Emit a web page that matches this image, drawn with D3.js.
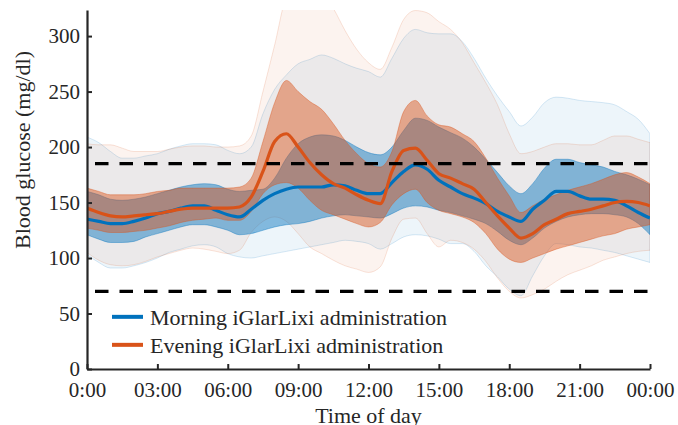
<!DOCTYPE html>
<html>
<head>
<meta charset="utf-8">
<script src="https://cdn.jsdelivr.net/npm/d3@7"></script>
<style>
  body { margin: 0; background: #fff; }
  text { font-family: "Liberation Serif", "Times New Roman", serif; fill: #262626; }
</style>
</head>
<body>
<div class="chart"></div>
<script>
// time of day in hours (half-hour steps)
var hours = [0,0.5,1,1.5,2,2.5,3,3.5,4,4.5,5,5.5,6,6.5,7,7.5,8,8.5,9,9.5,10,10.5,11,11.5,12,
  12.5,13,13.5,14,14.5,15,15.5,16,16.5,17,17.5,18,18.5,19,19.5,20,20.5,21,21.5,22,22.5,23,23.5,24];

// Morning administration
var blueMean = [135,133,131,131,133,136,140,142,145,147,147,143,139,137,144,152,158,162,164,164,164,166,165,161,158,
  158,168,178,184,180,170,164,158,154,149,142,137,133,144,152,160,160,156,153,153,152,147,141,136];
var blueInnerHi = [160,157,153,152,153,155,158,161,164,166,167,166,162,160,161,162,172,190,203,209,211,210,206,200,195,
  193,200,215,226,224,218,213,208,200,189,177,165,158,167,181,189,189,186,184,182,178,175,171,166];
var blueInnerLo = [121,117,114,114,115,119,122,125,128,130,130,128,125,121,122,125,128,130,131,133,136,138,139,138,137,
  136,140,145,147,146,143,141,138,135,131,124,116,112,118,127,133,137,139,140,140,139,137,131,121];
var blueOuterHi = [209,204,196,190,190,192,194,198,201,203,203,202,197,194,200,230,252,265,275,279,283,280,275,271,268,
  263,280,298,306,303,302,302,295,280,262,246,232,219,227,240,245,244,242,241,240,238,232,225,212];
var blueOuterLo = [103,96,91,91,93,96,100,105,108,111,112,110,104,101,100,102,104,106,108,110,112,114,116,115,113,
  108,113,119,121,120,117,113,113,106,93,83,72,66,84,102,113,112,110,109,107,105,102,99,96];

// Evening administration
var orangeMean = [145,141,138,137,138,139,140,142,144,145,145,145,145,146,155,178,205,212,200,186,175,167,163,157,152,
  149,178,197,199,188,176,172,167,162,150,138,127,118,122,130,135,140,142,144,147,150,151,150,147];
var orangeInnerHi = [163,160,157,157,157,158,160,161,163,163,163,163,163,164,172,205,240,260,250,241,234,221,206,194,185,
  182,196,232,242,228,220,218,212,205,190,172,156,141,147,153,157,161,164,167,171,175,177,173,167];
var orangeInnerLo = [127,125,123,123,124,125,127,129,132,134,135,136,134,134,142,158,166,168,163,152,143,139,135,131,128,
  132,148,158,162,150,143,140,137,132,122,108,99,96,100,104,108,111,114,117,120,122,126,128,130];
var orangeOuterHi = [203,202,202,199,196,196,196,198,200,201,201,200,200,201,210,250,292,335,345,348,340,325,305,288,276,
  270,290,315,323,321,313,306,294,276,258,238,212,194,196,200,203,203,202,202,206,210,210,207,204];
var orangeOuterLo = [105,98,94,93,94,97,101,104,107,109,108,106,104,107,123,133,137,133,122,110,104,98,93,90,87,
  92,118,135,136,122,110,116,114,108,97,82,70,64,67,72,79,85,89,93,98,101,104,106,107];

// reference thresholds (mg/dl)
var thresholds = [185, 70];

var xTicks = [0,3,6,9,12,15,18,21,24];
var xTickLabels = ["0:00","03:00","06:00","09:00","12:00","15:00","18:00","21:00","00:00"];
var yTicks = [0,50,100,150,200,250,300];

var seriesNames = ["Morning iGlarLixi administration", "Evening iGlarLixi administration"];
var blue = "#0072BD";
var orange = "#D95319";

var svgWidth = 678;
var svgHeight = 425;
var margin = { top: 10, right: 28, bottom: 56, left: 87 };
var width = svgWidth - margin.left - margin.right;
var height = svgHeight - margin.top - margin.bottom;

var svg = d3.select(".chart")
  .append("svg")
  .attr("width", svgWidth)
  .attr("height", svgHeight);

var chartGroup = svg.append("g")
  .attr("transform", `translate(${margin.left}, ${margin.top})`);

var xScale = d3.scaleLinear().domain([0, 24]).range([0, width]);
var yScale = d3.scaleLinear().domain([0, 323.5]).range([height, 0]);

svg.append("defs").append("clipPath").attr("id", "plotClip")
  .append("rect").attr("width", width).attr("height", height);

var plot = chartGroup.append("g").attr("clip-path", "url(#plotClip)");

function band(lo, hi) {
  return d3.area()
    .x((d, i) => xScale(hours[i]))
    .y0((d, i) => yScale(lo[i]))
    .y1((d, i) => yScale(hi[i]))
    .curve(d3.curveMonotoneX)(hours);
}
function meanLine(vals) {
  return d3.line()
    .x((d, i) => xScale(hours[i]))
    .y((d, i) => yScale(vals[i]))
    .curve(d3.curveMonotoneX)(hours);
}

// outer bands (light)
plot.append("path").attr("d", band(blueOuterLo, blueOuterHi))
  .attr("fill", blue).attr("fill-opacity", 0.07)
  .attr("stroke", blue).attr("stroke-opacity", 0.2).attr("stroke-width", 0.8);
plot.append("path").attr("d", band(orangeOuterLo, orangeOuterHi))
  .attr("fill", orange).attr("fill-opacity", 0.07)
  .attr("stroke", orange).attr("stroke-opacity", 0.2).attr("stroke-width", 0.8);

// inner bands
plot.append("path").attr("d", band(blueInnerLo, blueInnerHi))
  .attr("fill", blue).attr("fill-opacity", 0.45)
  .attr("stroke", blue).attr("stroke-opacity", 0.5).attr("stroke-width", 0.8);
plot.append("path").attr("d", band(orangeInnerLo, orangeInnerHi))
  .attr("fill", orange).attr("fill-opacity", 0.45)
  .attr("stroke", orange).attr("stroke-opacity", 0.5).attr("stroke-width", 0.8);

// mean lines
plot.append("path").attr("d", meanLine(blueMean))
  .attr("fill", "none").attr("stroke", blue).attr("stroke-width", 3.2);
plot.append("path").attr("d", meanLine(orangeMean))
  .attr("fill", "none").attr("stroke", orange).attr("stroke-width", 3.2);

// threshold lines
plot.selectAll(".thr")
  .data(thresholds)
  .enter()
  .append("line")
  .attr("class", "thr")
  .attr("x1", xScale(0)).attr("x2", xScale(24))
  .attr("y1", d => yScale(d)).attr("y2", d => yScale(d))
  .attr("stroke", "#000").attr("stroke-width", 3.3)
  .attr("stroke-dasharray", "13.5,11")
  .attr("stroke-dashoffset", -8);

// axes
var bottomAxis = d3.axisBottom(xScale)
  .tickValues(xTicks)
  .tickFormat((d, i) => xTickLabels[i])
  .tickSizeInner(-5).tickSizeOuter(0).tickPadding(13);
var leftAxis = d3.axisLeft(yScale)
  .tickValues(yTicks)
  .tickSizeInner(-5).tickSizeOuter(0).tickPadding(7);

var xAxis = chartGroup.append("g")
  .attr("transform", `translate(0, ${height})`)
  .call(bottomAxis);
var yAxis = chartGroup.append("g").call(leftAxis);

[xAxis, yAxis].forEach(function(ax) {
  ax.select(".domain").attr("stroke", "#262626").attr("stroke-width", 2.2);
  ax.selectAll(".tick line").attr("stroke", "#262626").attr("stroke-width", 2);
  ax.selectAll(".tick text").attr("font-size", "21px")
    .style("font-family", "'Liberation Serif', 'Times New Roman', serif").attr("fill", "#262626");
});

// axis titles
chartGroup.append("text")
  .attr("transform", "rotate(-90)")
  .attr("x", -(150 - margin.top))
  .attr("y", 30 - margin.left)
  .attr("text-anchor", "middle")
  .attr("font-size", "22px")
  .text("Blood glucose (mg/dl)");

chartGroup.append("text")
  .attr("x", xScale(12))
  .attr("y", height + 54)
  .attr("text-anchor", "middle")
  .attr("font-size", "22px")
  .text("Time of day");

// legend
var legend = chartGroup.append("g")
  .attr("transform", `translate(25, ${yScale(47)})`);
var legendColors = [blue, orange];
seriesNames.forEach(function(name, i) {
  legend.append("line")
    .attr("x1", 0).attr("x2", 31)
    .attr("y1", i * 28).attr("y2", i * 28)
    .attr("stroke", legendColors[i]).attr("stroke-width", 4);
  legend.append("text")
    .attr("x", 38).attr("y", i * 28 + 8)
    .attr("font-size", "22px")
    .text(name);
});
</script>
</body>
</html>
